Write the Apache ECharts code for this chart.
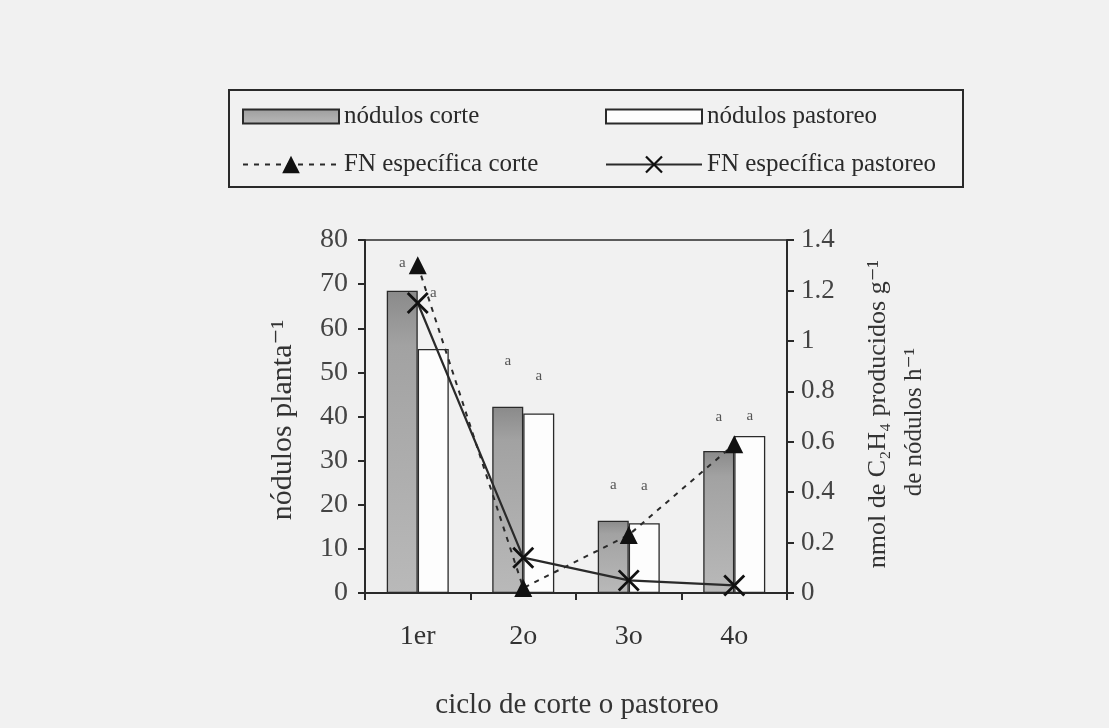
<!DOCTYPE html>
<html><head><meta charset="utf-8">
<script src="https://cdn.jsdelivr.net/npm/echarts@6/dist/echarts.min.js"></script>
<style>html,body{margin:0;padding:0;background:#f1f1f1;}#c{width:1109px;height:728px;}</style>
</head><body><div id="c"></div>
<script>
// ---- data ----
const categories = ['1er', '2o', '3o', '4o'];
const nodulosCorte = [68.5, 42.2, 16.4, 32.2];
const nodulosPastoreo = [55.3, 40.7, 15.8, 35.6];
const fnCorte = [1.30, 0.02, 0.23, 0.59];
const fnPastoreo = [1.15, 0.14, 0.05, 0.03];
const lettersCorte = ['a', 'a', 'a', 'a'];
const lettersPastoreo = ['a', 'a', 'a', 'a'];
const leftTicks = { min: 0, max: 80, interval: 10 };
const rightTicks = { min: 0, max: 1.4, interval: 0.2 };

// ---- styles ----
const serif = '"Liberation Serif", "DejaVu Serif", serif';
const ink = '#2a2a2a';
const liftCorte = [20, 38, 28, 26];
const liftPastoreo = [48, 30, 30, 12];
const xPath = 'path://M0,0.9 L0.9,0 L5,4.1 L9.1,0 L10,0.9 L5.9,5 L10,9.1 L9.1,10 L5,5.9 L0.9,10 L0,9.1 L4.1,5 Z';

const chart = echarts.init(document.getElementById('c'), null, { renderer: 'canvas' });

function barData(vals, letters, lifts) {
  return vals.map((v, i) => ({
    value: v,
    label: { show: true, formatter: letters[i], distance: lifts[i] }
  }));
}
const legendText = { fontFamily: serif, fontSize: 25, color: ink };
function legendAt(name, left, top, h, icon) {
  const l = { left: left, top: top, itemWidth: 96, itemHeight: h, data: [name], textStyle: legendText, itemGap: 0 };
  if (icon) l.icon = icon;
  return l;
}

const option = {
  backgroundColor: '#f1f1f1',
  animation: false,
  grid: { left: 365, right: 322, top: 240, bottom: 135, show: true, borderColor: ink, borderWidth: 1.5, backgroundColor: 'transparent' },
  legend: [
    legendAt('nódulos corte', 237, 99, 14, 'rect'),
    legendAt('nódulos pastoreo', 600, 99, 14, 'rect'),
    legendAt('FN específica corte', 237, 147, 22),
    legendAt('FN específica pastoreo', 600, 147, 22)
  ],
  xAxis: {
    type: 'category', data: categories,
    axisLine: { lineStyle: { color: ink, width: 2 } },
    axisTick: { show: true, length: 7, lineStyle: { color: ink, width: 2 } },
    axisLabel: { fontFamily: serif, fontSize: 28, color: '#333', margin: 30 }
  },
  yAxis: [
    {
      type: 'value', position: 'left', min: leftTicks.min, max: leftTicks.max, interval: leftTicks.interval,
      splitLine: { show: false },
      axisLine: { show: true, lineStyle: { color: ink, width: 2 } },
      axisTick: { show: true, length: 7, lineStyle: { color: ink, width: 2 } },
      axisLabel: { fontFamily: serif, fontSize: 28, color: '#444', margin: 17 }
    },
    {
      type: 'value', position: 'right', min: rightTicks.min, max: rightTicks.max, interval: rightTicks.interval,
      splitLine: { show: false },
      axisLine: { show: true, lineStyle: { color: ink, width: 2 } },
      axisTick: { show: true, length: 7, lineStyle: { color: ink, width: 2 } },
      axisLabel: { fontFamily: serif, fontSize: 27, color: '#444', margin: 14,
        formatter: v => String(Math.round(v * 10) / 10) }
    }
  ],
  series: [
    {
      name: 'nódulos corte', type: 'bar', barWidth: 31, barGap: '0%',
      data: barData(nodulosCorte, lettersCorte, liftCorte),
      itemStyle: {
        color: new echarts.graphic.LinearGradient(0, 0, 0, 1, [
          { offset: 0, color: '#8a8a8a' }, { offset: 0.18, color: '#a2a2a2' }, { offset: 1, color: '#b9b9b9' }
        ]),
        borderColor: ink, borderWidth: 1.3
      },
      label: { position: 'top', fontFamily: serif, fontSize: 15, color: '#555' }
    },
    {
      name: 'nódulos pastoreo', type: 'bar', barWidth: 31,
      data: barData(nodulosPastoreo, lettersPastoreo, liftPastoreo),
      itemStyle: { color: '#fdfdfd', borderColor: ink, borderWidth: 1.3 },
      label: { position: 'top', fontFamily: serif, fontSize: 15, color: '#555' }
    },
    {
      name: 'FN específica corte', type: 'line', yAxisIndex: 1, z: 5,
      data: fnCorte,
      symbol: 'triangle', symbolSize: [18, 18],
      lineStyle: { color: ink, width: 2, type: [5, 6] },
      itemStyle: { color: '#111' }
    },
    {
      name: 'FN específica pastoreo', type: 'line', yAxisIndex: 1, z: 6,
      data: fnPastoreo,
      symbol: xPath, symbolSize: 22,
      lineStyle: { color: ink, width: 2.2 },
      itemStyle: { color: '#111' }
    }
  ],
  graphic: [
    {
      type: 'rect', left: 228, top: 89, z: -1,
      shape: { width: 734, height: 97 },
      style: { fill: 'transparent', stroke: ink, lineWidth: 2 }
    },
    {
      type: 'text', x: 283, y: 420, rotation: Math.PI / 2,
      style: { text: 'nódulos planta⁻¹', font: '30px ' + serif, fill: '#333', align: 'center', verticalAlign: 'middle' }
    },
    {
      type: 'text', x: 878, y: 414, rotation: Math.PI / 2,
      style: { text: 'nmol de C₂H₄ producidos g⁻¹', font: '26px ' + serif, fill: '#333', align: 'center', verticalAlign: 'middle' }
    },
    {
      type: 'text', x: 914, y: 422, rotation: Math.PI / 2,
      style: { text: 'de nódulos h⁻¹', font: '25px ' + serif, fill: '#333', align: 'center', verticalAlign: 'middle' }
    },
    {
      type: 'text', x: 577, y: 705,
      style: { text: 'ciclo de corte o pastoreo', font: '29px ' + serif, fill: '#333', align: 'center', verticalAlign: 'middle' }
    }
  ]
};
chart.setOption(option);
</script>
</body></html>
